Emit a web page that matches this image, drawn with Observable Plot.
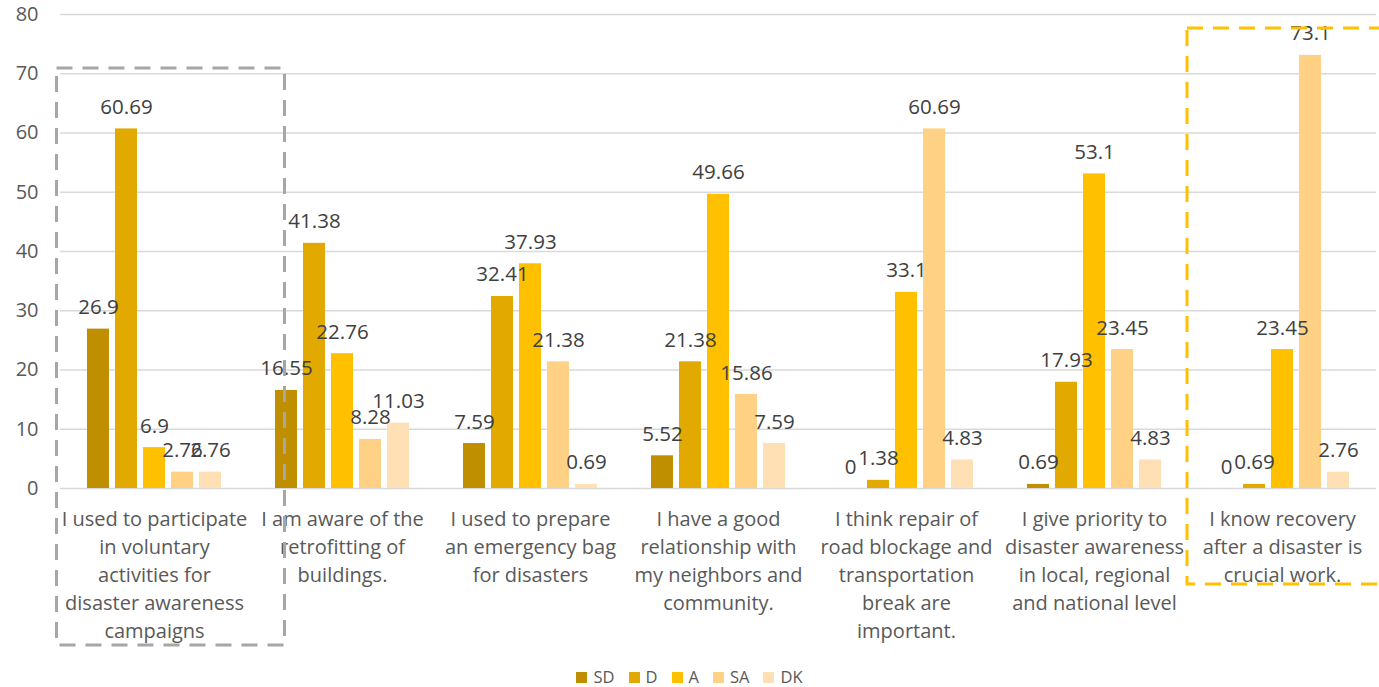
<!DOCTYPE html>
<html>
<head>
<meta charset="utf-8">
<script src="https://cdn.jsdelivr.net/npm/d3@7"></script>
<script src="https://cdn.jsdelivr.net/npm/@observablehq/plot@0.6"></script>
<style>
  body { margin: 0; background: #fff; font-family: "Open Sans", sans-serif; }
  #wrap { position: relative; width: 1379px; height: 687px; overflow: hidden; }
  #legend { position: absolute; left: 0; top: 665px; width: 1379px; display: flex; justify-content: center; gap: 14px; font-size: 16.5px; color: #595959; }
  #legend span.sw { display: inline-block; width: 11px; height: 11px; margin-right: 6px; vertical-align: 0px; }
  #overlay { position: absolute; left: 0; top: 0; pointer-events: none; }
</style>
</head>
<body>
<div id="wrap">
  <div id="chart"></div>
  <div id="legend"></div>
  <svg id="overlay" width="1379" height="687">
    <rect x="56.5" y="68" width="228" height="577" fill="none" stroke="#a6a6a6" stroke-width="3" stroke-dasharray="16 10"/>
    <rect x="1187" y="28" width="220" height="556" fill="none" stroke="#ffc000" stroke-width="3" stroke-dasharray="16 10"/>
  </svg>
</div>
<script>
const categories = [
  "I used to participate\nin voluntary\nactivities for\ndisaster awareness\ncampaigns",
  "I am aware of the\nretrofitting of\nbuildings.",
  "I used to prepare\nan emergency bag\nfor disasters",
  "I have a good\nrelationship with\nmy neighbors and\ncommunity.",
  "I think repair of\nroad blockage and\ntransportation\nbreak are\nimportant.",
  "I give priority to\ndisaster awareness\nin local, regional\nand national level",
  "I know recovery\nafter a disaster is\ncrucial work."
];
const series = ["SD", "D", "A", "SA", "DK"];
const colors = ["#bf8f00", "#e2aa00", "#ffc000", "#ffd185", "#ffe0b5"];
const SD = [26.9, 16.55, 7.59, 5.52, 0, 0.69, 0];
const D  = [60.69, 41.38, 32.41, 21.38, 1.38, 17.93, 0.69];
const A  = [6.9, 22.76, 37.93, 49.66, 33.1, 53.1, 23.45];
const SA = [2.76, 8.28, 21.38, 15.86, 60.69, 23.45, 73.1];
const DK = [2.76, 11.03, 0.69, 7.59, 4.83, 4.83, 2.76];
const yTicks = [0, 10, 20, 30, 40, 50, 60, 70, 80];

const valuesBySeries = {SD, D, A, SA, DK};
const data = [];
categories.forEach((c, i) => {
  series.forEach(s => data.push({category: c, series: s, value: valuesBySeries[s][i]}));
});

const chart = Plot.plot({
  width: 1379,
  height: 655,
  marginLeft: 57,
  marginRight: 0,
  marginTop: 14,
  marginBottom: 167,
  style: {fontFamily: "'Open Sans', sans-serif", color: "#595959", background: "transparent"},
  fx: {domain: categories, padding: 0, axis: null},
  x: {domain: series, paddingInner: 0.2, paddingOuter: 0.855, axis: null},
  y: {domain: [0, 80], ticks: yTicks, label: null},
  color: {domain: series, range: colors},
  marks: [
    Plot.gridY(yTicks, {stroke: "#d9d9d9", strokeOpacity: 1, strokeWidth: 1.5}),
    Plot.axisY({ticks: yTicks, tickSize: 0, tickPadding: 22, fontSize: 20, fill: "#595959", label: null, facetAnchor: "left"}),
    Plot.barY(data, {fx: "category", x: "series", y: "value", fill: "series"}),
    Plot.text(data, {fx: "category", x: "series", y: "value", text: d => String(d.value), lineAnchor: "bottom", dy: -15, fontSize: 20.5, fill: "#404040"}),
    Plot.text(categories, {fx: d => d, text: d => d, frameAnchor: "bottom", lineAnchor: "top", dy: 17, fontSize: 20, lineHeight: 1.41, fill: "#595959"})
  ]
});
document.getElementById("chart").appendChild(chart);

const legend = document.getElementById("legend");
series.forEach((s, i) => {
  const item = document.createElement("div");
  item.innerHTML = `<span class="sw" style="background:${colors[i]}"></span>${s}`;
  legend.appendChild(item);
});
</script>
</body>
</html>
